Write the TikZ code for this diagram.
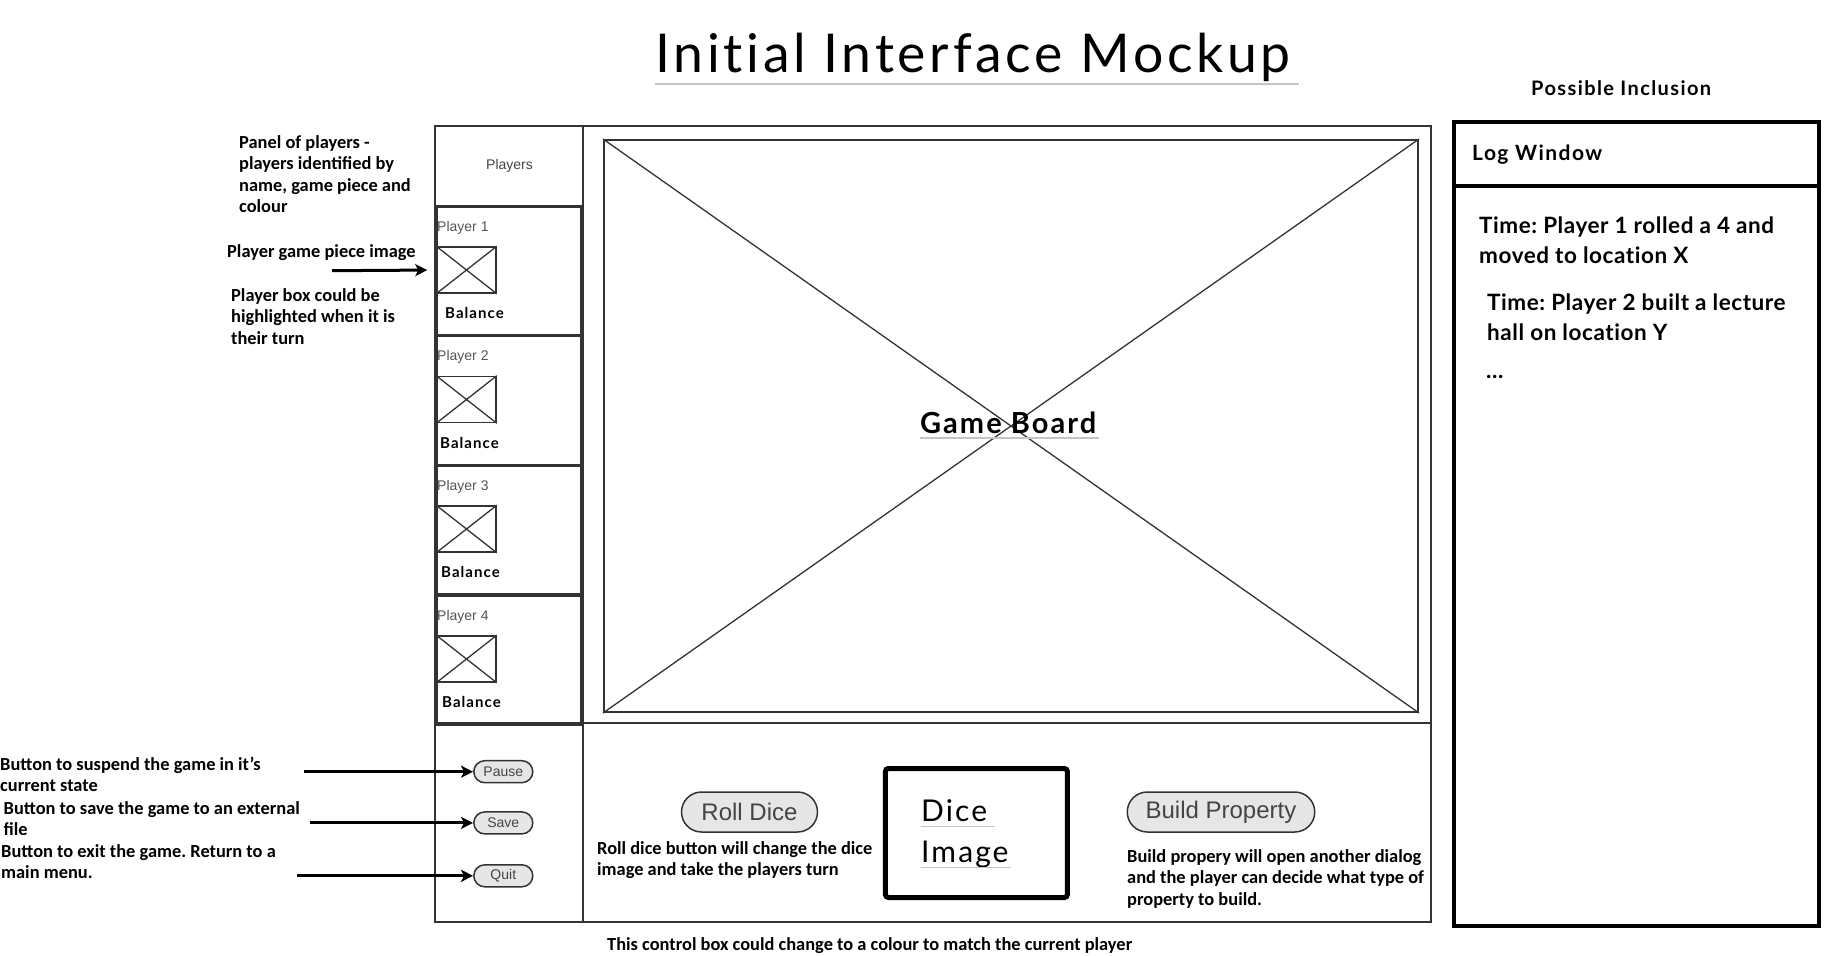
\documentclass[tikz,border=0pt]{standalone}
\usepackage{fontspec}
\usetikzlibrary{arrows.meta}
\newfontfamily\notefont{Carlito}
\newfontfamily\headfont{Lato}[LetterSpace=7, Ligatures=NoCommon]
\newfontfamily\logfont{Lato}[LetterSpace=2.5, Ligatures=NoCommon]
\newfontfamily\uifont{Liberation Sans}
\definecolor{frame}{HTML}{333333}
\definecolor{uitext}{HTML}{444444}
\definecolor{lbltext}{HTML}{555555}
\definecolor{btnfill}{HTML}{E6E6E6}
\definecolor{textrule}{HTML}{C4C4C4}
% lines stacked on a common left edge; the baseline is that of the first line
\newcommand\stacklines[1]{\vtop{\halign{##\hfil\cr#1\crcr}}}
\frenchspacing
\begin{document}
\begin{tikzpicture}[x=1pt,y=-1pt,
  note/.style={anchor=base west, inner sep=0pt, font=\notefont\bfseries\fontsize{18.4}{21.5}\selectfont},
  frameline/.style={draw=frame, line width=2pt},
  playerbox/.style={draw=frame, line width=3pt},
  imgbox/.style={draw=frame, line width=1.5pt, minimum width=59pt, minimum height=46pt, inner sep=0pt},
  cross/.style={draw=frame, line width=1.3pt},
  plabel/.style={anchor=base west, inner sep=0pt, text=lbltext, font=\uifont\fontsize{14}{14}\selectfont},
  balance/.style={anchor=base west, inner sep=0pt, font=\headfont\bfseries\fontsize{15}{15}\selectfont},
  smallbtn/.style={draw=frame, fill=btnfill, line width=1.5pt, rounded corners=11pt, minimum width=59pt, minimum height=22pt, inner sep=0pt, text=uitext, font=\uifont\fontsize{14}{14}\selectfont},
  bigbtn/.style={draw=frame, fill=btnfill, line width=1.5pt, rounded corners=20pt, minimum height=40pt, inner sep=0pt, text=uitext, font=\uifont\fontsize{24}{24}\selectfont},
  pointer/.style={draw=black, line width=3pt, -{Stealth[length=12pt,width=12pt,inset=3pt]}},
  logtext/.style={anchor=base west, inner sep=0pt, font=\logfont\bfseries\fontsize{22.5}{30}\selectfont},
  textrulestyle/.style={draw=textrule, line width=1.2pt}
]
\useasboundingbox (0,0) rectangle (1824,956);

% title
\node[anchor=base west, inner sep=0pt, font=\headfont\fontsize{53.5}{53.5}\selectfont] (title) at (655,72) {Initial Interface Mockup};
\draw[textrulestyle] (655,84) -- (1299,84);

% main window frame
\draw[frameline] (435,126) rectangle (1431,922);
\draw[frameline] (583,126) -- (583,922);
\draw[frameline] (435,206) -- (583,206);
\draw[frameline] (435,723) -- (1431,723);
\node[anchor=base, inner sep=0pt, text=uitext, font=\uifont\fontsize{14}{14}\selectfont] (playershead) at (509.5,169) {Players};

% player panels
\foreach \i/\t/\bx in {1/206/445, 2/335.5/440, 3/465/441, 4/595/442}{
  \draw[playerbox] (436.5,\t) rectangle (581.5,\t+129.5);
  \node[plabel] (plabel\i) at (437,\t+25) {Player \i};
  \node[imgbox] (img\i) at (466.5,\t+64) {};
  \draw[cross] (img\i.north west) -- (img\i.south east) (img\i.north east) -- (img\i.south west);
  \node[balance] (bal\i) at (\bx,\t+112.5) {Balance};
}

% game board
\node[draw=frame, line width=2pt, minimum width=814pt, minimum height=572pt, inner sep=0pt] (board) at (1011,426) {};
\draw[cross] (board.north west) -- (board.south east) (board.north east) -- (board.south west);
\node[anchor=base west, inner sep=0pt, font=\headfont\bfseries\fontsize{29}{29}\selectfont] (boardtext) at (920,433) {Game Board};
\draw[textrulestyle] (920,438) -- (1099,438);

% menu buttons
\node[smallbtn] (pause) at (503.3,771.7) {Pause};
\node[smallbtn] (save) at (503.3,822.9) {Save};
\node[smallbtn] (quit) at (503.3,875.8) {Quit};

% control box
\node[bigbtn, minimum width=136pt] (roll) at (749.5,812) {Roll Dice};
\node[bigbtn, minimum width=187.5pt] (build) at (1221,812) {Build Property};
\node[draw=black, line width=5pt, rounded corners=3pt, minimum width=182pt, minimum height=129pt, inner sep=0pt] (dice) at (976.4,833) {};
\node[anchor=base west, inner sep=0pt, font=\headfont\fontsize{30}{41}\selectfont] (dicetext) at (921,821) {\stacklines{Dice\cr Image}};
\draw[textrulestyle] (921,826.5) -- (995,826.5);
\draw[textrulestyle] (921,867.5) -- (1011,867.5);
\node[note] (rollnote) at (597,854) {\stacklines{Roll dice button will change the dice\cr image and take the players turn}};
\node[note] (buildnote) at (1127,862) {\stacklines{Build propery will open another dialog\cr and the player can decide what type of\cr property to build.}};
\node[note] (colournote) at (607,950) {This control box could change to a colour to match the current player};

% log window
\draw[draw=black, line width=4pt] (1454,122) rectangle (1819,926);
\draw[draw=black, line width=4pt] (1454,186) -- (1819,186);
\node[anchor=base west, inner sep=0pt, font=\headfont\bfseries\fontsize{20}{20}\selectfont] (possible) at (1531,95) {Possible Inclusion};
\node[anchor=base west, inner sep=0pt, font=\headfont\bfseries\fontsize{21}{21}\selectfont] (loghead) at (1472,160) {Log Window};
\node[logtext] (log1) at (1479,233) {\stacklines{Time: Player 1 rolled a 4 and\cr moved to location X}};
\node[logtext] (log2) at (1487,310) {\stacklines{Time: Player 2 built a lecture\cr hall on location Y}};
\node[logtext] (log3) at (1486,378) {...};

% annotations
\node[note] (panelnote) at (239,148) {\stacklines{Panel of players -\cr players identified by\cr name, game piece and\cr colour}};
\node[note] (piecenote) at (227,257) {Player game piece image};
\node[note] (highlightnote) at (231,301) {\stacklines{Player box could be\cr highlighted when it is\cr their turn}};
\node[note] (pausenote) at (0,770) {\stacklines{Button to suspend the game in it’s\cr current state}};
\node[note] (savenote) at (3.5,814) {\stacklines{Button to save the game to an external\cr file}};
\node[note] (quitnote) at (1,857) {\stacklines{Button to exit the game. Return to a\cr main menu.}};

% pointers
\coordinate (pieceFrom) at (332,270.7);
\coordinate (pauseFrom) at (304,771.7);
\coordinate (saveFrom) at (310,822.9);
\coordinate (quitFrom) at (297,875.8);
\draw[pointer, shorten >=9pt] (pieceFrom) -- (img1.west);
\draw[pointer] (pauseFrom) -- (pause.west);
\draw[pointer] (saveFrom) -- (save.west);
\draw[pointer] (quitFrom) -- (quit.west);
\end{tikzpicture}
\end{document}
